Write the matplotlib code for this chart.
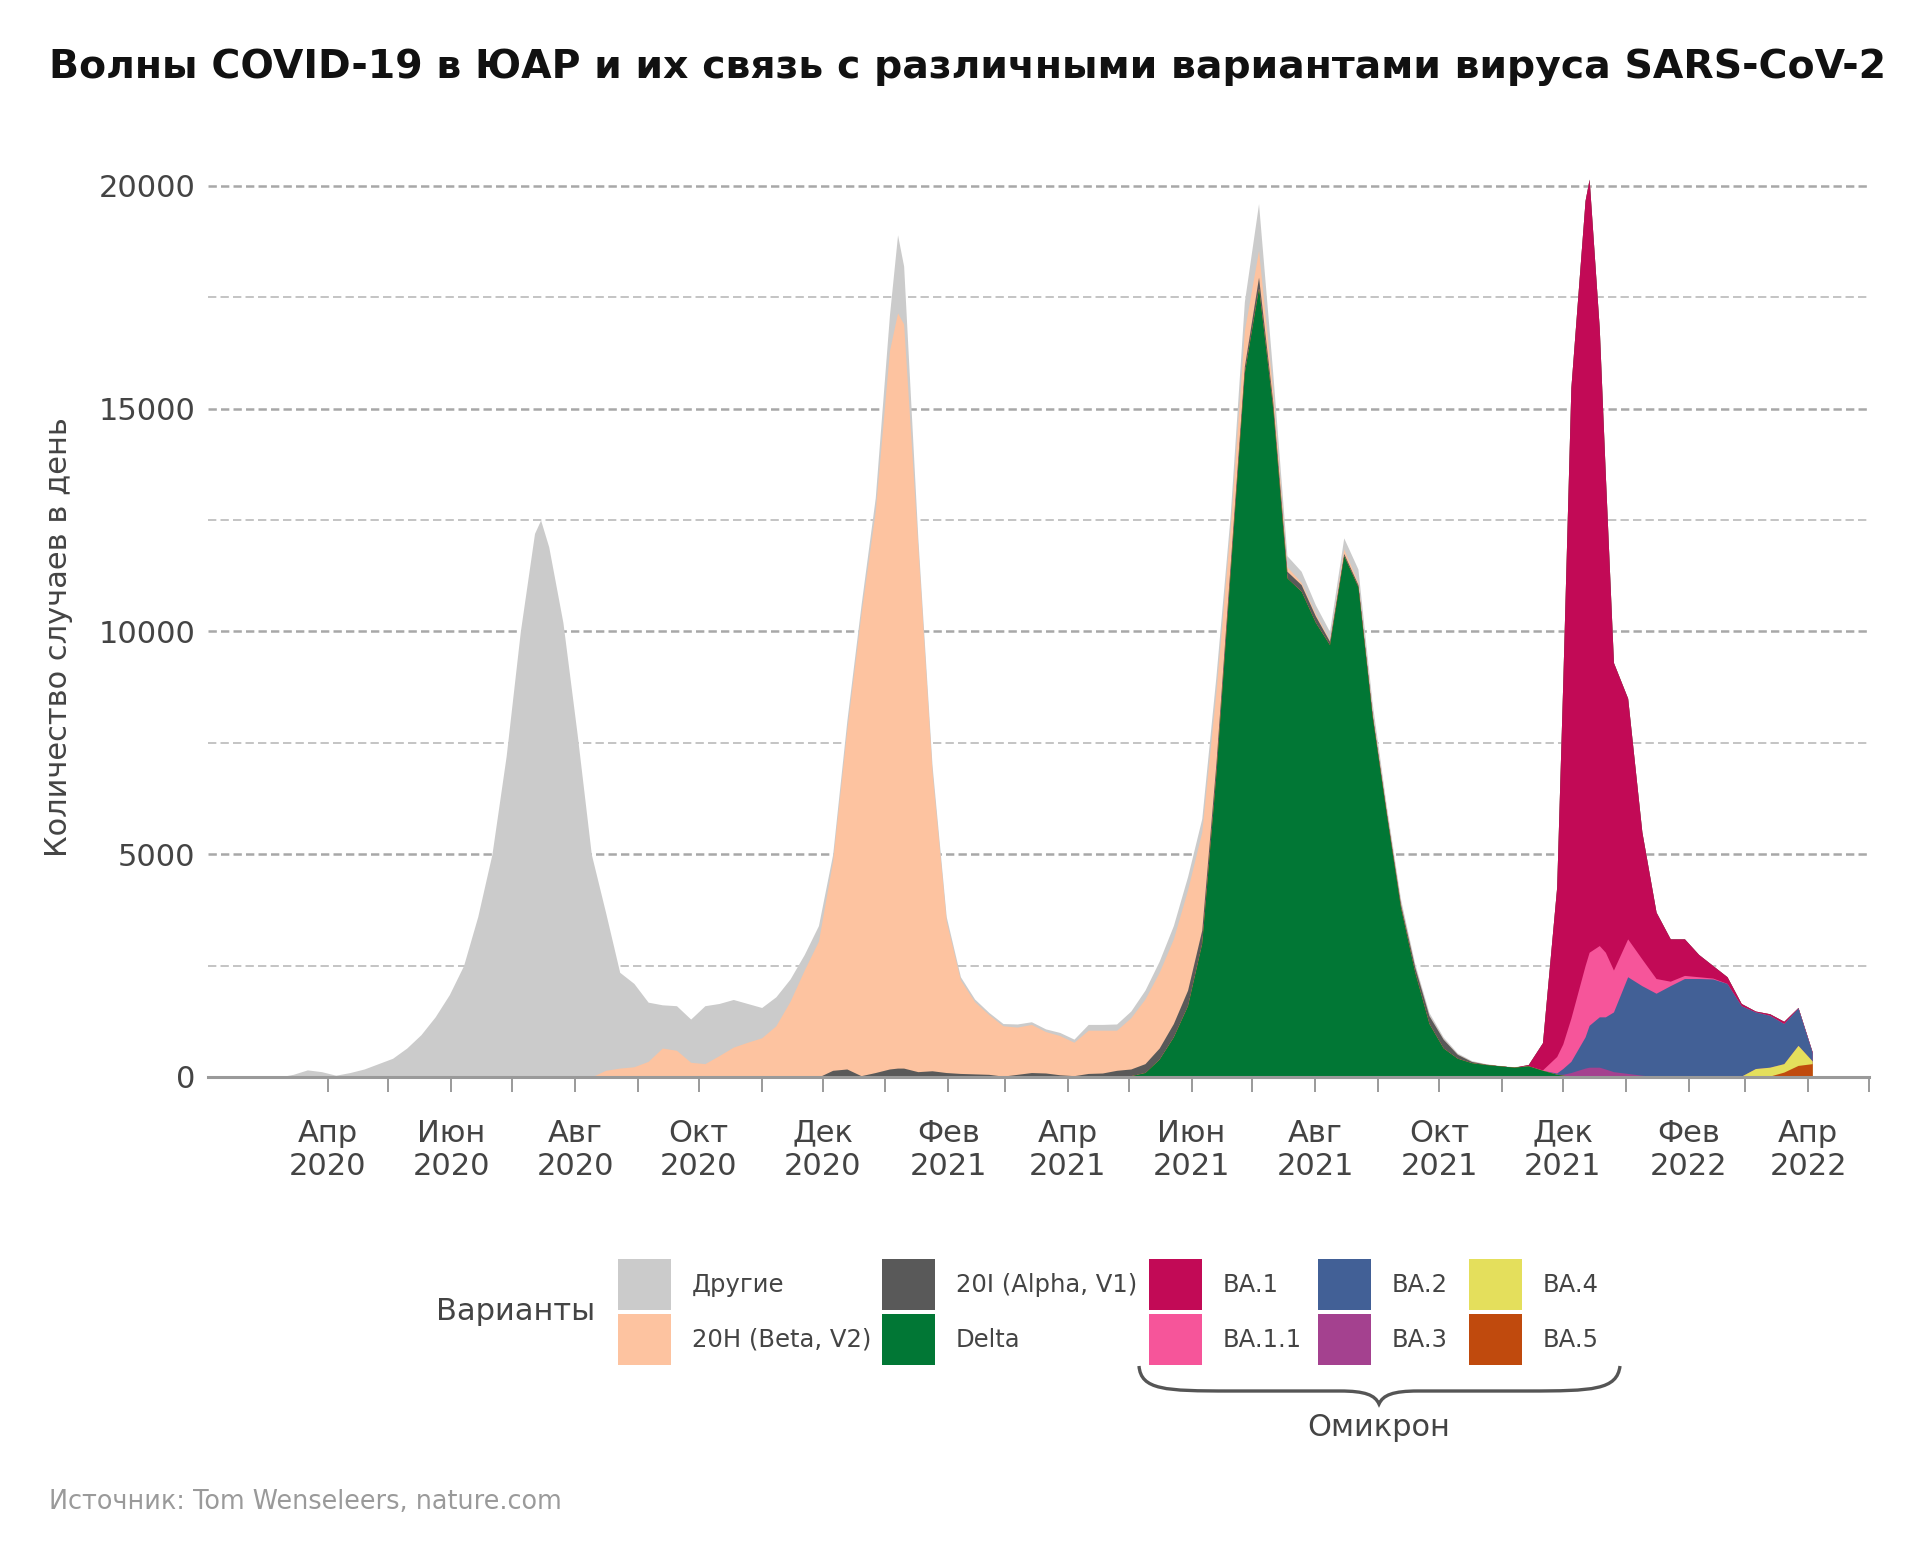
import matplotlib
matplotlib.use("Agg")
import matplotlib.pyplot as plt
import numpy as np
import pandas as pd
from matplotlib.patches import Rectangle, PathPatch
from matplotlib.path import Path

plt.rcParams['font.family'] = ['DejaVu Sans']
plt.rcParams['lines.scale_dashes'] = False

# даты (раз в неделю + несколько точек у пиков)
dates = [
    "2020-03-08", "2020-03-15", "2020-03-22", "2020-03-29",
    "2020-04-05", "2020-04-12", "2020-04-19", "2020-04-26",
    "2020-05-03", "2020-05-10", "2020-05-17", "2020-05-24", "2020-05-31",
    "2020-06-07", "2020-06-14", "2020-06-21", "2020-06-28",
    "2020-07-05", "2020-07-12", "2020-07-15", "2020-07-19", "2020-07-26",
    "2020-08-02", "2020-08-09", "2020-08-16", "2020-08-23", "2020-08-30",
    "2020-09-06", "2020-09-13", "2020-09-20", "2020-09-27",
    "2020-10-04", "2020-10-11", "2020-10-18", "2020-10-25",
    "2020-11-01", "2020-11-08", "2020-11-15", "2020-11-22", "2020-11-29",
    "2020-12-06", "2020-12-13", "2020-12-20", "2020-12-27",
    "2021-01-03", "2021-01-07", "2021-01-10", "2021-01-17", "2021-01-24", "2021-01-31",
    "2021-02-07", "2021-02-14", "2021-02-21", "2021-02-28",
    "2021-03-07", "2021-03-14", "2021-03-21", "2021-03-28",
    "2021-04-04", "2021-04-11", "2021-04-18", "2021-04-25",
    "2021-05-02", "2021-05-09", "2021-05-16", "2021-05-23", "2021-05-30",
    "2021-06-06", "2021-06-13", "2021-06-20", "2021-06-27",
    "2021-07-04", "2021-07-11", "2021-07-18", "2021-07-25",
    "2021-08-01", "2021-08-08", "2021-08-15", "2021-08-22", "2021-08-29",
    "2021-09-05", "2021-09-12", "2021-09-19", "2021-09-26",
    "2021-10-03", "2021-10-10", "2021-10-17", "2021-10-24", "2021-10-31",
    "2021-11-07", "2021-11-14", "2021-11-21", "2021-11-28",
    "2021-12-01", "2021-12-05", "2021-12-12", "2021-12-14", "2021-12-19",
    "2021-12-22", "2021-12-26",
    "2022-01-02", "2022-01-09", "2022-01-16", "2022-01-23", "2022-01-30",
    "2022-02-06", "2022-02-13", "2022-02-20", "2022-02-27",
    "2022-03-06", "2022-03-13", "2022-03-20", "2022-03-27",
    "2022-04-03",
]

# каждый вариант: первая дата и значения с неё (дальше нули)
other_start = "2020-03-08"
other = [0, 60, 160, 120,
         40, 100, 180, 300,
         420, 650, 950, 1350, 1850,
         2500, 3600, 5000, 7200,
         10000, 12200, 12500, 11900, 10200,
         7700, 5000, 3550, 2150, 1870,
         1330, 970, 1000, 970,
         1300, 1170, 1070, 870,
         680, 650, 500, 350, 350,
         150, 200, 200, 300,
         800, 1750, 1300, 200, 150, 100,
         70, 60, 50, 50,
         70, 60, 60, 70,
         70, 130, 130, 140,
         150, 200, 250, 300, 300,
         300, 350, 300, 650,
         1050, 400, 250, 250,
         200, 190, 250, 300, 200,
         120, 100, 80, 70,
         50, 30, 20, 10, 10,
         10]

beta_start = "2020-08-16"
beta = [150, 200, 230,
        350, 650, 600, 330,
        300, 480, 670, 780,
        880, 1150, 1700, 2400, 3050,
        4700, 7620, 10370, 12600,
        16120, 16950, 16700, 11780, 6710, 3400,
        2100, 1620, 1340, 1130,
        1060, 1080, 930, 880,
        750, 970, 960, 900,
        1150, 1450, 1700, 1900, 2250,
        2200, 1600, 800, 800,
        600, 250, 100, 50,
        50, 30, 100, 50, 50,
        30, 20]

alpha_start = "2020-12-06"
alpha = [150, 180, 30, 100,
         180, 200, 200, 120, 140, 100,
         80, 70, 60, 20,
         60, 100, 90, 50,
         30, 80, 90, 150,
         150, 200, 250, 300, 350,
         300, 250, 200, 150,
         250, 150, 150, 150,
         150, 80, 50, 50, 50,
         50, 80, 120, 180,
         200, 90, 30, 10]

delta_start = "2021-05-02"
delta = [30, 100, 400, 900, 1600,
         3000, 6800, 11300, 15800,
         17700, 15000, 11200, 10900,
         10200, 9700, 11700, 11000, 8100,
         5900, 3800, 2350, 1200,
         650, 420, 320, 280, 250,
         220, 250, 150, 60,
         40, 20]

ba1_start = "2021-11-14"
ba1 = [30, 610, 3800,
       8100, 14150, 17170, 17350, 13850,
       10700, 6900,
       5400, 2850, 1490, 950, 820,
       500, 280, 150, 50,
       20, 35, 50, 10,
       10]

ba11_start = "2021-11-21"
ba11 = [10, 370,
        550, 970, 1600, 1640, 1600,
        1450, 940,
        850, 600, 330, 100, 70,
        40, 20]

ba2_start = "2021-11-28"
ba2 = [30,
       130, 250, 700, 940, 1130,
       1170, 1340,
       2170, 2010, 1870, 2050, 2210,
       2210, 2200, 2100, 1580,
       1270, 1165, 900, 840,
       190]

ba3_start = "2021-12-01"
ba3 = [20, 80, 200, 220, 220,
       180, 120,
       80, 40, 10]

ba4_start = "2022-02-27"
ba4 = [20, 190, 200, 190, 450, 60]

ba5_start = "2022-03-13"
ba5 = [20, 110, 260, 300]

tick_labels = ["Апр\n2020", "", "Июн\n2020", "", "Авг\n2020", "", "Окт\n2020", "",
               "Дек\n2020", "", "Фев\n2021", "", "Апр\n2021", "", "Июн\n2021", "",
               "Авг\n2021", "", "Окт\n2021", "", "Дек\n2021", "", "Фев\n2022", "",
               "Апр\n2022", ""]

names = ["Другие", "20H (Beta, V2)", "20I (Alpha, V1)", "Delta",
         "BA.1", "BA.1.1", "BA.2", "BA.3", "BA.4", "BA.5"]
colors = ["#cbcbcb", "#fdc3a0", "#595959", "#017735",
          "#c20a56", "#f6559a", "#426096", "#a4418f", "#e4df5c", "#c04a0d"]


def full(values, start):
    out = np.zeros(len(dates))
    i = dates.index(start)
    out[i:i + len(values)] = values
    return out


x = pd.to_datetime(dates)
series = [full(other, other_start), full(beta, beta_start), full(alpha, alpha_start),
          full(delta, delta_start), full(ba1, ba1_start), full(ba11, ba11_start),
          full(ba2, ba2_start), full(ba3, ba3_start), full(ba4, ba4_start),
          full(ba5, ba5_start)]

# порядок слоёв сверху вниз (Delta в самом низу)
stack = [0, 1, 2, 4, 5, 6, 7, 8, 9, 3]

fig = plt.figure(figsize=(19.2, 15.44), dpi=100)
ax = fig.add_axes([208 / 1920, 467 / 1544, 1661 / 1920, 909 / 1544])

layers = np.array([series[i] for i in stack])
cum = np.cumsum(layers[::-1], axis=0)[::-1]
for top, i in zip(cum, stack):
    ax.fill_between(x, 0, top, color=colors[i], lw=0, zorder=2)

ax.set_xlim(pd.Timestamp("2020-02-02"), pd.Timestamp("2022-05-01"))
ax.set_ylim(0, 20400)

for s in ["top", "right", "left"]:
    ax.spines[s].set_visible(False)
ax.spines["bottom"].set_color("#9a9a9a")
ax.spines["bottom"].set_linewidth(2.2)
ax.spines["bottom"].set_zorder(5)

ax.set_yticks([0, 5000, 10000, 15000, 20000])
ax.set_yticklabels(["0", "5000", "10000", "15000", "20000"])
ax.set_yticks([2500, 7500, 12500, 17500], minor=True)
ax.set_axisbelow(True)
ax.yaxis.grid(True, which="major", ls=(0, (6, 3)), color="#a8a8a8", lw=1.8)
ax.yaxis.grid(True, which="minor", ls=(0, (6, 3)), color="#b4b4b4", lw=1.1)
ax.tick_params(axis="y", which="both", length=0, pad=9, labelsize=22, labelcolor="#444444")

ticks = pd.date_range("2020-04-01", "2022-05-01", freq="MS")
ax.set_xticks(ticks)
ax.set_xticklabels(tick_labels)
ax.tick_params(axis="x", length=11, width=1.4, color="#9a9a9a", pad=19,
               labelsize=22, labelcolor="#444444")

# оверлей в пикселях для текста и легенды
ov = fig.add_axes([0, 0, 1, 1])
ov.set_xlim(0, 1920)
ov.set_ylim(1544, 0)
ov.axis("off")
ov.patch.set_alpha(0)

ov.text(49, 67, "Волны COVID-19 в ЮАР и их связь с различными вариантами вируса SARS-CoV-2",
        fontsize=28.4, weight="bold", ha="left", va="center", color="#111111")
ov.text(59, 637, "Количество случаев в день", rotation=90, fontsize=22,
        ha="center", va="center", color="#444444")
ov.text(49, 1502, "Источник: Tom Wenseleers, nature.com", fontsize=18.4,
        ha="left", va="center", color="#9a9a9a")

ov.text(436, 1311, "Варианты", fontsize=22, ha="left", va="center", color="#444444")
box_x = [618, 882, 1149, 1318, 1469]
box_y = [1259, 1314]
for k, (name, col) in enumerate(zip(names, colors)):
    bx = box_x[k // 2]
    by = box_y[k % 2]
    ov.add_patch(Rectangle((bx, by), 53, 51, color=col, lw=0))
    ov.text(bx + 74, by + 26, name, fontsize=17.5, ha="left", va="center", color="#444444")

# фигурная скобка под омикроном
verts = [(1139, 1366), (1141, 1390), (1165, 1391), (1230, 1391),
         (1340, 1391),
         (1365, 1391), (1375, 1395), (1379, 1404),
         (1383, 1395), (1393, 1391), (1418, 1391),
         (1528, 1391),
         (1593, 1391), (1617, 1390), (1620, 1366)]
codes = [Path.MOVETO, Path.CURVE4, Path.CURVE4, Path.CURVE4,
         Path.LINETO,
         Path.CURVE4, Path.CURVE4, Path.CURVE4,
         Path.CURVE4, Path.CURVE4, Path.CURVE4,
         Path.LINETO,
         Path.CURVE4, Path.CURVE4, Path.CURVE4]
ov.add_patch(PathPatch(Path(verts, codes), fill=False, color="#555555", lw=2.4))
ov.text(1379, 1427, "Омикрон", fontsize=22, ha="center", va="center", color="#444444")

fig.savefig("out.png", dpi=100)
